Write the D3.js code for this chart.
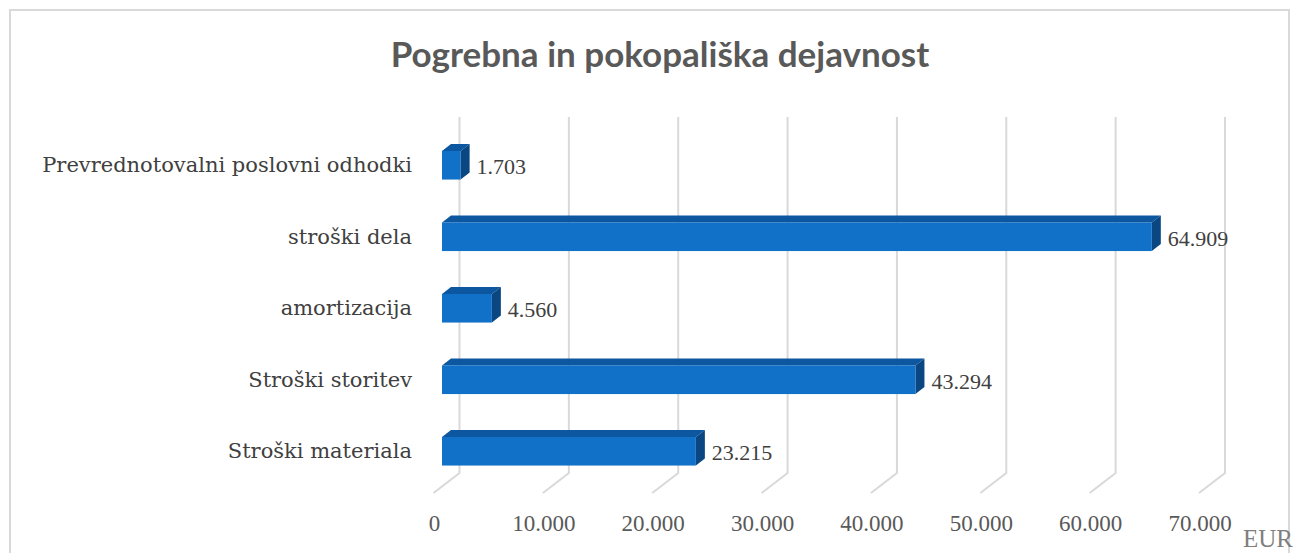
<!DOCTYPE html>
<html>
<head>
<meta charset="utf-8">
<script src="https://cdn.jsdelivr.net/npm/d3@7"></script>
<style>
  body { margin: 0; background: #fff; }
  svg { display: block; }
</style>
</head>
<body>
<div id="chart"></div>
<script>
// chart data
var categories = ["Prevrednotovalni poslovni odhodki", "stroški dela", "amortizacija", "Stroški storitev", "Stroški materiala"];
var values = [1703, 64909, 4560, 43294, 23215];
var ticks = [0, 10000, 20000, 30000, 40000, 50000, 60000, 70000];

var width = 1299, height = 553;

var svg = d3.select("#chart")
  .append("svg")
  .attr("width", width)
  .attr("height", height);

// outer border of the chart area
svg.append("rect")
  .attr("x", 10).attr("y", 10)
  .attr("width", 1279).attr("height", 560)
  .attr("fill", "none")
  .attr("stroke", "#d9d9d9")
  .attr("stroke-width", 2);

// title
svg.append("text")
  .attr("x", 660).attr("y", 67)
  .attr("text-anchor", "middle")
  .style("font-family", "Lato, 'Open Sans', sans-serif")
  .style("font-weight", "bold")
  .style("font-size", "35px")
  .style("fill", "#595959")
  .text("Pogrebna in pokopališka dejavnost");

// 3d offsets
var depthX = 26, depthY = 20;   // floor depth (back wall -> front)
var frontX = 17.5;              // bar front plane offset from back wall
var barDX = 9, barDY = -7;      // bar depth

var x = d3.scaleLinear().domain([0, 70000]).range([459.5, 1225]);
var y = d3.scaleBand().domain(categories).range([129.5, 487]).paddingInner(0.6).paddingOuter(0.3);

var gridTop = 117, gridBottom = 473;

// gridlines: vertical on back wall, then diagonal on the floor
svg.append("g").selectAll("path")
  .data(ticks)
  .enter()
  .append("path")
  .attr("d", d => "M" + x(d) + "," + gridTop + "L" + x(d) + "," + gridBottom +
                  "L" + (x(d) - depthX) + "," + (gridBottom + depthY))
  .attr("fill", "none")
  .attr("stroke", "#d9d9d9")
  .attr("stroke-width", 2);

// tick labels
svg.append("g").selectAll("text")
  .data(ticks)
  .enter()
  .append("text")
  .attr("x", d => x(d) - depthX + 1)
  .attr("y", 531)
  .attr("text-anchor", "middle")
  .style("font-family", "'Liberation Serif', serif")
  .style("font-size", "23px")
  .style("fill", "#595959")
  .text(d => d3.format(",")(d).replace(/,/g, "."));

svg.append("text")
  .attr("x", 1293).attr("y", 547)
  .attr("text-anchor", "end")
  .style("font-family", "'Liberation Serif', serif")
  .style("font-size", "25px")
  .style("fill", "#7f7f7f")
  .text("EUR");

// bars
var bars = svg.append("g").selectAll("g")
  .data(categories.map((c, i) => ({ cat: c, value: values[i] })))
  .enter()
  .append("g");

function x0() { return x(0) - frontX; }
function x1(d) { return x(d.value) - frontX; }

// top face
bars.append("path")
  .attr("d", d => {
    var t = y(d.cat);
    return "M" + x0() + "," + t + "L" + (x0() + barDX) + "," + (t + barDY) +
           "L" + (x1(d) + barDX) + "," + (t + barDY) + "L" + x1(d) + "," + t + "Z";
  })
  .attr("fill", "#0c579f");

// side face
bars.append("path")
  .attr("d", d => {
    var t = y(d.cat), b = t + y.bandwidth();
    return "M" + x1(d) + "," + t + "L" + (x1(d) + barDX) + "," + (t + barDY) +
           "L" + (x1(d) + barDX) + "," + (b + barDY) + "L" + x1(d) + "," + b + "Z";
  })
  .attr("fill", "#0a4782");

// front face
bars.append("rect")
  .attr("x", x0())
  .attr("y", d => y(d.cat))
  .attr("width", d => x1(d) - x0())
  .attr("height", y.bandwidth())
  .attr("fill", "#1170c8");

// value labels
bars.append("text")
  .attr("x", d => x1(d) + barDX + 7)
  .attr("y", d => y(d.cat) + y.bandwidth() / 2 + 9)
  .style("font-family", "'Liberation Serif', serif")
  .style("font-size", "22px")
  .style("fill", "#404040")
  .text(d => d3.format(",")(d.value).replace(/,/g, "."));

// category labels
svg.append("g").selectAll("text")
  .data(categories)
  .enter()
  .append("text")
  .attr("x", 412)
  .attr("y", d => y(d) + y.bandwidth() / 2 + 7)
  .attr("text-anchor", "end")
  .style("font-family", "'DejaVu Serif', serif")
  .style("font-size", "21px")
  .style("fill", "#404040")
  .text(d => d);
</script>
</body>
</html>
